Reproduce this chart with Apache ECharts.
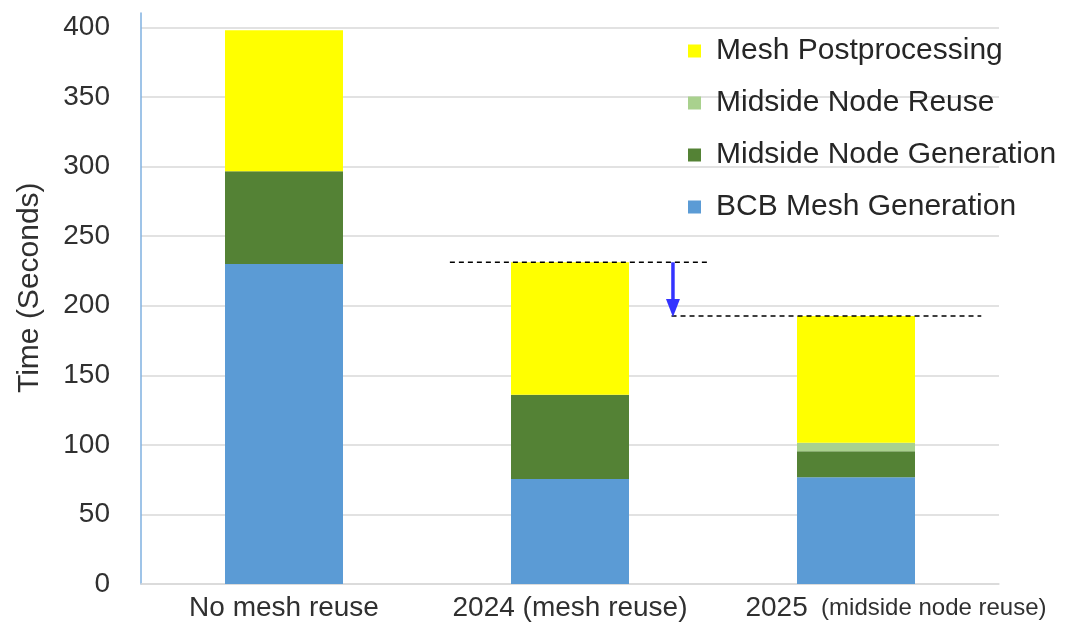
<!DOCTYPE html>
<html>
<head>
<meta charset="utf-8">
<title>Meshing time breakdown</title>
<script src="https://cdn.jsdelivr.net/npm/echarts@6/dist/echarts.min.js"></script>
<style>
  html, body { margin: 0; padding: 0; background: #ffffff; }
  #chart { width: 1084px; height: 624px; }
</style>
</head>
<body>
<div id="chart"></div>
<script>
// Categories and stacked timing components (seconds)
const categories = ['No mesh reuse', '2024 (mesh reuse)', '2025 (midside node reuse)'];
const bcbMeshGeneration = [230, 75.5, 76.7];
const midsideNodeGeneration = [66.6, 60.5, 18.7];
const midsideNodeReuse = [0, 0, 6.1];
const meshPostprocessing = [101.4, 95.2, 91.1];
const yTicks = { min: 0, max: 400, interval: 50 };

const seriesNames = ['BCB Mesh Generation', 'Midside Node Generation', 'Midside Node Reuse', 'Mesh Postprocessing'];
const seriesColors = ['#5B9BD5', '#548235', '#A9D18E', '#FFFF00'];
const seriesValues = [bcbMeshGeneration, midsideNodeGeneration, midsideNodeReuse, meshPostprocessing];

const totalAt = i => seriesValues.reduce((s, arr) => s + arr[i], 0);

const FONT = 'Liberation Sans, Arial, sans-serif';
const TEXT = '#303030';

const chart = echarts.init(document.getElementById('chart'), null, { renderer: 'canvas' });

const barSeries = seriesNames.map((name, k) => ({
  name,
  type: 'bar',
  stack: 'total',
  xAxisIndex: 0,
  yAxisIndex: 0,
  barWidth: 118,
  itemStyle: { color: seriesColors[k] },
  emphasis: { disabled: true },
  data: seriesValues[k]
}));

// Dashed reference lines at the 2024 and 2025 totals with a downward arrow between them
const annotation = {
  type: 'custom',
  xAxisIndex: 0,
  yAxisIndex: 0,
  silent: true,
  z: 10,
  data: [[1, totalAt(1)]],
  renderItem: function (params, api) {
    const p2 = api.coord([1, totalAt(1)]);
    const p3 = api.coord([2, totalAt(2)]);
    const bw = api.size([1, 0])[0];
    const dash = { stroke: '#000', lineWidth: 1.5, lineDash: [5, 4] };
    const ax = p2[0] + 0.36 * bw;
    return {
      type: 'group',
      children: [
        { type: 'line', shape: { x1: p2[0] - 0.42 * bw, y1: p2[1], x2: p2[0] + 0.49 * bw, y2: p2[1] }, style: dash },
        { type: 'line', shape: { x1: p3[0] - 0.645 * bw, y1: p3[1], x2: p3[0] + 0.438 * bw, y2: p3[1] }, style: dash },
        { type: 'line', shape: { x1: ax, y1: p2[1], x2: ax, y2: p3[1] - 14 }, style: { stroke: '#3333ff', lineWidth: 3.5 } },
        { type: 'polygon', shape: { points: [[ax - 7, p3[1] - 17], [ax + 7, p3[1] - 17], [ax, p3[1] + 1]] }, style: { fill: '#3333ff' } }
      ]
    };
  }
};

chart.setOption({
  animation: false,
  backgroundColor: '#ffffff',
  textStyle: { fontFamily: FONT },
  grid: [
    { left: 141, right: 85, top: 27.4, bottom: 40 },
    { left: 141, right: 85, top: 13, bottom: 40 }
  ],
  legend: {
    orient: 'vertical',
    left: 683,
    top: 31,
    itemWidth: 13,
    itemHeight: 13,
    itemGap: 22,
    icon: 'rect',
    selectedMode: false,
    data: ['Mesh Postprocessing', 'Midside Node Reuse', 'Midside Node Generation', 'BCB Mesh Generation'],
    textStyle: { fontFamily: FONT, fontSize: 30, lineHeight: 28, color: '#262626', padding: [0, 0, 0, 10] }
  },
  xAxis: [
    {
      type: 'category',
      gridIndex: 0,
      data: categories,
      axisLine: { show: true, lineStyle: { color: '#d9d9d9', width: 1.5 } },
      axisTick: { show: false },
      axisLabel: {
        margin: 10,
        fontFamily: FONT,
        fontSize: 28,
        color: TEXT,
        interval: 0,
        formatter: function (v) {
          if (v.indexOf('2025') === 0) {
            return '{sp|}{a|2025}{b|  (midside node reuse)}';
          }
          return v;
        },
        rich: {
          sp: { width: 80 },
          a: { fontFamily: FONT, fontSize: 28, color: TEXT },
          b: { fontFamily: 'Liberation Sans Narrow, Liberation Sans, sans-serif', fontSize: 24, color: TEXT }
        }
      }
    },
    { type: 'category', gridIndex: 1, show: false, data: categories }
  ],
  yAxis: [
    {
      type: 'value',
      gridIndex: 0,
      min: yTicks.min,
      max: yTicks.max,
      interval: yTicks.interval,
      name: 'Time (Seconds)',
      nameLocation: 'middle',
      nameGap: 96,
      nameTextStyle: { fontFamily: FONT, fontSize: 30, color: TEXT, padding: [0, 0, 0, 36] },
      axisLine: { show: false },
      axisTick: { show: false },
      axisLabel: { margin: 31, fontFamily: FONT, fontSize: 28, color: TEXT },
      splitLine: { show: true, lineStyle: { color: '#d9d9d9', width: 1.5 } }
    },
    {
      type: 'value',
      gridIndex: 1,
      min: 0,
      max: 1,
      axisLine: { show: true, lineStyle: { color: '#7FB0E0', width: 1.5 } },
      axisTick: { show: false },
      axisLabel: { show: false },
      splitLine: { show: false }
    }
  ],
  series: barSeries.concat([annotation])
});
</script>
</body>
</html>
